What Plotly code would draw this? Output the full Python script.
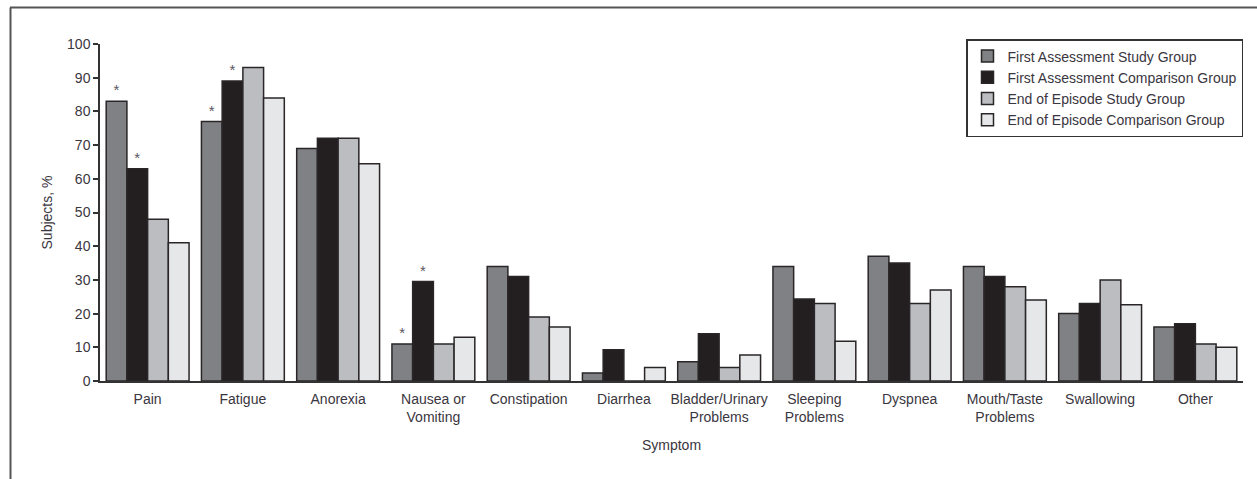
import plotly.graph_objects as go

# Symptom categories (x axis)
symptoms = [
    "Pain", "Fatigue", "Anorexia", "Nausea or<br>Vomiting", "Constipation",
    "Diarrhea", "Bladder/Urinary<br>Problems", "Sleeping<br>Problems",
    "Dyspnea", "Mouth/Taste<br>Problems", "Swallowing", "Other",
]

# Percentage of subjects reporting each symptom
first_study = [83, 77, 69, 11, 34, 2.4, 5.7, 34, 37, 34, 20, 16]
first_comparison = [63, 89, 72, 29.5, 31, 9.3, 14, 24.3, 35, 31, 23, 17]
end_study = [48, 93, 72, 11, 19, 0, 4, 23, 23, 28, 30, 11]
end_comparison = [41, 84, 64.5, 13, 16, 4, 7.7, 11.8, 27, 24, 22.6, 10]

# Significance flags (asterisk above bar)
first_study_sig = [True, True, False, True] + [False] * 8
first_comparison_sig = [True, True, False, True] + [False] * 8

series_names = [
    "First Assessment Study Group",
    "First Assessment Comparison Group",
    "End of Episode Study Group",
    "End of Episode Comparison Group",
]

FONT = "Liberation Sans, Arial, sans-serif"
FS = 14
TEXT_COLOR = "#3a3640"
EDGE = "#2a2628"

fills = ["#808184", "#231f20", "#bcbdc0", "#e6e7e8"]
values = [first_study, first_comparison, end_study, end_comparison]
flags = [first_study_sig, first_comparison_sig, [False] * 12, [False] * 12]

fig = go.Figure()
for name, vals, fill, sig in zip(series_names, values, fills, flags):
    fig.add_trace(go.Bar(
        x=symptoms,
        y=vals,
        name=name,
        marker=dict(color=fill, line=dict(color=EDGE, width=1.5)),
        text=["*" if s else "" for s in sig],
        textposition="outside",
        textfont=dict(family=FONT, size=15, color="#5a5660"),
        cliponaxis=False,
    ))

# Plot area geometry in pixels
W, H = 1257, 479
ML, MR, MT, MB = 100, 14, 44, 98
pw, ph = W - ML - MR, H - MT - MB

def px_x(px):
    return (px - ML) / pw

def px_y(py):
    return 1 - (py - MT) / ph

fig.update_layout(
    width=W, height=H,
    margin=dict(l=ML, r=MR, t=MT, b=MB),
    paper_bgcolor="white",
    plot_bgcolor="white",
    barmode="group",
    bargap=0.13,
    bargroupgap=0,
    font=dict(family=FONT, size=FS, color=TEXT_COLOR),
    showlegend=True,
    legend=dict(
        x=px_x(1243), y=px_y(39), xanchor="right", yanchor="top",
        bordercolor="#333", borderwidth=1.5, bgcolor="white",
        font=dict(family=FONT, size=FS, color=TEXT_COLOR),
        tracegroupgap=0,
    ),
    xaxis=dict(
        showline=True, linecolor="#333", linewidth=1.5,
        ticks="", showgrid=False, ticklabelstandoff=4,
        tickfont=dict(family=FONT, size=FS, color=TEXT_COLOR),
        title=dict(text="Symptom", font=dict(family=FONT, size=FS, color=TEXT_COLOR), standoff=16),
    ),
    yaxis=dict(
        range=[0, 100],
        tickvals=list(range(0, 101, 10)),
        showline=True, linecolor="#333", linewidth=1.5,
        ticks="outside", ticklen=5, tickcolor="#333", tickwidth=1.5,
        showgrid=False, zeroline=False,
        tickfont=dict(family=FONT, size=FS, color=TEXT_COLOR),
        title=dict(text="Subjects, %", font=dict(family=FONT, size=FS, color=TEXT_COLOR), standoff=11),
    ),
    shapes=[
        # outer frame (top and left edges)
        dict(type="line", xref="paper", yref="paper",
             x0=px_x(10), x1=px_x(W + 5), y0=px_y(7.5), y1=px_y(7.5),
             line=dict(color="#555", width=2)),
        dict(type="line", xref="paper", yref="paper",
             x0=px_x(10.5), x1=px_x(10.5), y0=px_y(7.5), y1=px_y(H + 5),
             line=dict(color="#555", width=2)),
    ],
)

fig.write_html("out.html")
